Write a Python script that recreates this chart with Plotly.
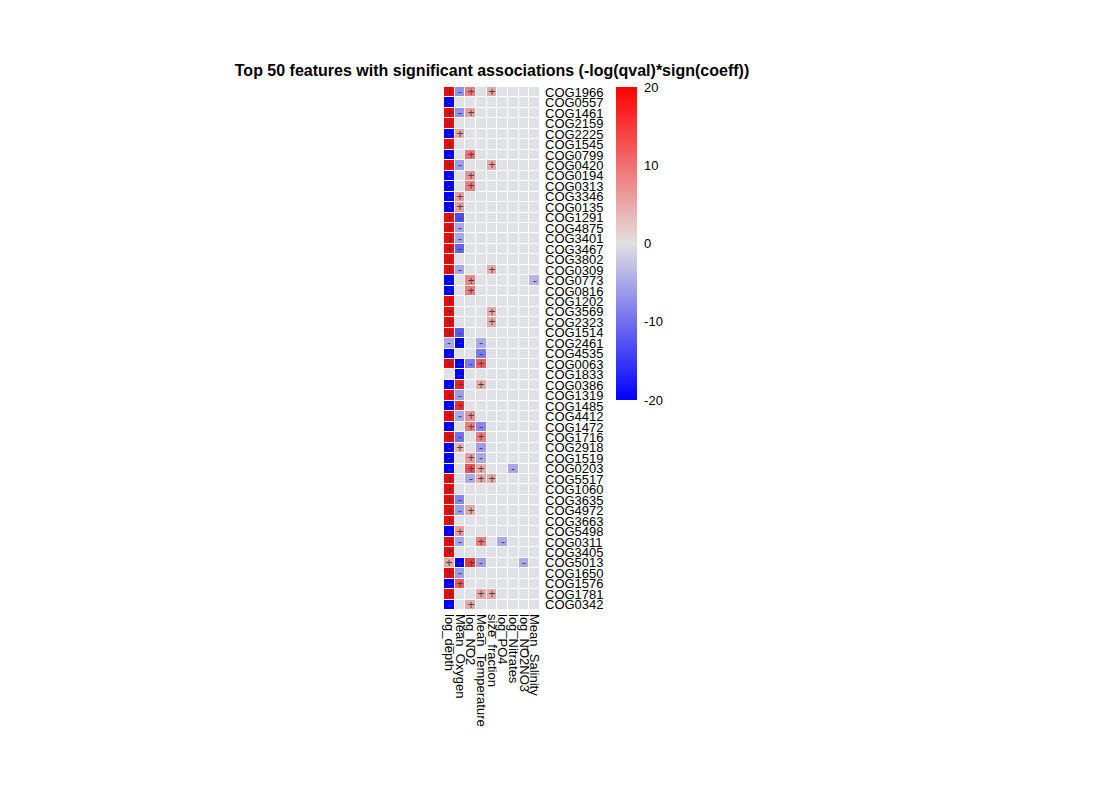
#! /usr/bin/env python3

import plotly.graph_objects as go

# rows, top to bottom
features = ["COG1966", "COG0557", "COG1461", "COG2159", "COG2225", "COG1545", "COG0799", "COG0420",
            "COG0194", "COG0313", "COG3346", "COG0135", "COG1291", "COG4875", "COG3401", "COG3467",
            "COG3802", "COG0309", "COG0773", "COG0816", "COG1202", "COG3569", "COG2323", "COG1514",
            "COG2461", "COG4535", "COG0063", "COG1833", "COG0386", "COG1319", "COG1485", "COG4412",
            "COG1472", "COG1716", "COG2918", "COG1519", "COG0203", "COG5517", "COG1060", "COG3635",
            "COG4972", "COG3663", "COG5498", "COG0311", "COG3405", "COG5013", "COG1650", "COG1576",
            "COG1781", "COG0342"]

metadata = ["log_depth", "Mean_Oxygen", "log_NO2", "Mean_Temperature", "size_fraction",
            "log_PO4", "log_Nitrates", "log_NO2NO3", "Mean_Salinity"]

N = None
log_depth = [20, -20, 20, 20, -20, 20, -20, 20, -20, -20, -20, -20, 20, 20, 20, 20, 20, 20, -20, -20,
             20, 20, 20, 20, -5, -20, 20, N, -20, 20, -20, 20, -20, 20, -20, -20, -20, 20, 20, 20,
             20, 20, -20, 20, 20, 5, 20, -20, 20, -20]
mean_oxygen = [-7, N, -7, N, 5, N, N, -6, N, N, 6, 6, -13, -5, -5, -11, N, -5, N, N,
               N, N, N, -12, -20, N, -20, -20, 17, -6, 16, -5, N, -10, 4, N, N, N, N, -8,
               -6, N, 6, -5, N, -20, -6, 12, N, N]
log_no2 = [9, N, 6, N, N, N, 10, N, 7, 9, N, N, N, N, N, N, N, N, 8, 9,
           N, N, N, N, N, N, -9, N, N, N, N, 7, 9, N, N, 6, 13, -5, N, N,
           5, N, N, N, N, 15, N, N, N, 5]
mean_temperature = [N, N, N, N, N, N, N, N, N, N, N, N, N, N, N, N, N, N, N, N,
                    N, N, N, N, -5, -9, 12, N, 5, N, N, N, -8, 9, -6, -5, 5, 5, N, N,
                    N, N, N, 9, N, -6, N, N, 5, N]
size_fraction = [5, N, N, N, N, N, N, 5, N, N, N, N, N, N, N, N, N, 5, N, N,
                 N, 5, 5, N, N, N, N, N, N, N, N, N, N, N, N, N, N, 5, N, N,
                 N, N, N, N, N, N, N, N, 5, N]
log_po4 = [N] * 43 + [-5] + [N] * 6
log_nitrates = [N] * 36 + [-5] + [N] * 13
log_no2no3 = [N] * 45 + [-5] + [N] * 4
mean_salinity = [N] * 18 + [-4] + [N] * 31

columns = [log_depth, mean_oxygen, log_no2, mean_temperature, size_fraction,
           log_po4, log_nitrates, log_no2no3, mean_salinity]

z = [[col[i] for col in columns] for i in range(len(features))]
signs = [["" if v is None else ("+" if v > 0 else "-") for v in row] for row in z]

font = "Arial, Liberation Sans, sans-serif"

# the page body adds an 8px margin, so pixel positions are shifted back by it
W, H, OFF = 1100, 800, 8

fig = go.Figure()

# grey tiles behind everything so empty cells show up
fig.add_trace(go.Heatmap(
    x=metadata, y=features, z=[[0] * len(metadata) for _ in features],
    colorscale=[[0, "#E0E0E7"], [1, "#E0E0E7"]], showscale=False,
    xgap=1, ygap=1, hoverinfo="skip"))

fig.add_trace(go.Heatmap(
    x=metadata, y=features, z=z,
    zmin=-20, zmax=20,
    colorscale=[[0, "#0000FF"], [0.5, "#E2E0E0"], [1, "#FF0000"]],
    xgap=1, ygap=1,
    text=signs, texttemplate="%{text}",
    textfont=dict(size=12, color="#444444", family=font),
    colorbar=dict(
        x=(616 - OFF) / W, xanchor="left", y=1 - (87 - OFF) / H, yanchor="top",
        len=313 / H, lenmode="fraction", thickness=21, outlinewidth=0,
        xpad=0, ypad=0,
        tickvals=[20, 10, 0, -10, -20], ticktext=["20", "10", "0", "-10", "-20"],
        ticks="outside", ticklen=5, tickcolor="rgba(0,0,0,0)",
        tickfont=dict(size=13, color="black", family=font)),
))

fig.update_layout(
    width=W, height=H,
    margin=dict(l=0, r=0, t=0, b=0, autoexpand=False),
    paper_bgcolor="white", plot_bgcolor="white",
    font=dict(family=font, color="black"),
    title=dict(text="<b>Top 50 features with significant associations (-log(qval)*sign(coeff))</b>",
               x=(492 - OFF) / W, xanchor="center", y=1 - (70 - OFF) / H, yanchor="middle",
               font=dict(size=16, color="black", family=font)),
    xaxis=dict(domain=[(444 - OFF) / W, (540 - OFF) / W], tickangle=90, showgrid=False,
               zeroline=False, tickmode="array", tickvals=metadata, automargin=False,
               ticks="", ticklabelstandoff=3,
               tickfont=dict(size=13, color="black"), fixedrange=True),
    yaxis=dict(domain=[1 - (610 - OFF) / H, 1 - (87 - OFF) / H], side="right",
               autorange="reversed", tickmode="array", tickvals=features, automargin=False,
               ticks="", ticklabelstandoff=4,
               showgrid=False, zeroline=False, tickfont=dict(size=13, color="black"),
               fixedrange=True),
)

fig.write_html("out.html")
